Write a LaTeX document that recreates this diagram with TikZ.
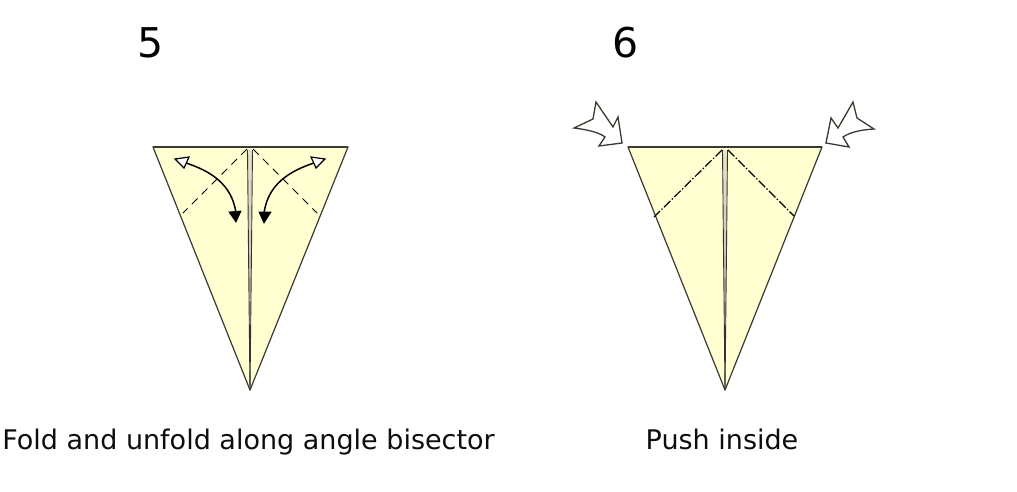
\documentclass[tikz,border=0pt]{standalone}
\usepackage{fontspec}
\setmainfont{DejaVu Sans}
\definecolor{paper}{HTML}{FFFFD2}
\definecolor{edge}{HTML}{3A3A30}
\definecolor{strip}{HTML}{E4E4C8}
\definecolor{stripdark}{HTML}{8A8A80}
\tikzset{
  paperface/.style={fill=paper,draw=edge,line width=1.2pt,line join=round},
  centerline/.style={draw=black!80,line width=0.9pt},
  stripfill/.style={top color=strip,bottom color=stripdark,middle color=strip!70!stripdark,draw=none},
  topline/.style={draw=edge,line width=1.4pt},
  valley/.style={draw=black,line width=1pt,dash pattern=on 8pt off 6pt},
  mountain/.style={draw=black,line width=1.2pt,dash pattern=on 9pt off 2pt on 1.5pt off 2pt},
  foldarrow/.style={draw=black,line width=1.5pt},
  whitetip/.style={fill=white,draw=black,line width=1.2pt,line join=miter},
  blacktip/.style={fill=black,draw=black,line width=0.8pt},
  pusharrow/.style={fill=white,draw=edge,line width=1.3pt,line join=miter},
  stepnum/.style={font=\fontsize{41}{41}\selectfont,inner sep=0pt,text=black},
  caption/.style={font=\fontsize{27}{27}\selectfont,inner sep=0pt,text=black!95}
}
\begin{document}
\begin{tikzpicture}[x=1pt,y=-1pt]
\useasboundingbox (0,0) rectangle (1017,491);
% --- figure 5
\path[paperface] (153,147) -- (348,147) -- (250,390) -- cycle;
\path[stripfill] (247.5,150) -- (252.5,150) -- (250.5,320) -- (250,380) -- (249.5,320) -- cycle;
\draw[centerline] (247.5,150) -- (248.5,250) -- (250,390);
\draw[centerline] (252.5,150) -- (251.5,250) -- (250,390);
\draw[topline] (153,147) -- (348,147);
\draw[valley] (247,149) -- (183,213);
\draw[valley] (253,149) -- (317,213);
\draw[foldarrow] (183,162) .. controls (212,171) and (232,185) .. (236,213);
\draw[foldarrow] (317,162) .. controls (288,171) and (268,185) .. (264,213);
\path[whitetip] (175,159) -- (189,157) -- (184,168) -- cycle;
\path[whitetip] (325,159) -- (311,157) -- (316,168) -- cycle;
\path[blacktip] (236,222) -- (229,212) -- (241,211) -- cycle;
\path[blacktip] (264,223) -- (259,212) -- (271,212) -- cycle;
% --- figure 6
\path[paperface] (628,147) -- (822,147) -- (725,390) -- cycle;
\path[stripfill] (722.5,150) -- (727.5,150) -- (725.5,320) -- (725,380) -- (724.5,320) -- cycle;
\draw[centerline] (722.5,150) -- (723.5,250) -- (725,390);
\draw[centerline] (727.5,150) -- (726.5,250) -- (725,390);
\draw[topline] (628,147) -- (822,147);
\draw[mountain] (722,150) -- (654,217);
\draw[mountain] (728,150) -- (794,216);
\path[pusharrow] (622,143) -- (618,117) -- (613,127) -- (596,102) -- (593,119) -- (574,128)
  .. controls (590,130) and (600,133) .. (605,137) -- (599,146) -- cycle;
\path[pusharrow] (826,143) -- (831,118) -- (838,128) -- (853,102) -- (857,118) -- (874,129)
  .. controls (858,130) and (849,133) .. (843,137) -- (849,147) -- cycle;
% --- texts
\node[stepnum] (five) at (151,43) {5};
\node[stepnum] (six) at (625.5,43) {6};
\node[caption,anchor=base] (capfive) at (248.5,449) {Fold and unfold along angle bisector};
\node[caption,anchor=base] (capsix) at (722,449) {Push inside};
\end{tikzpicture}
\end{document}
